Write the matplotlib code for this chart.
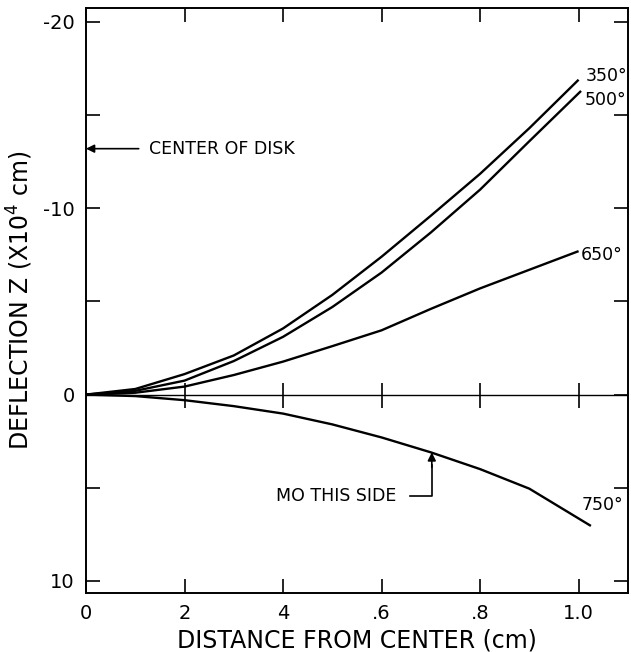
import matplotlib
matplotlib.use("Agg")
import matplotlib.pyplot as plt
import numpy as np

plt.rcParams['font.family'] = ['DejaVu Sans']

# curves (x in cm, Z in 1e-4 cm, negative = up)
x350 = [0.0, 0.1, 0.2, 0.3, 0.4, 0.5, 0.6, 0.7, 0.8, 0.9, 1.0]
z350 = [0.0, -0.3, -1.1, -2.1, -3.55, -5.35, -7.4, -9.6, -11.85, -14.3, -16.9]
x500 = [0.0, 0.1, 0.2, 0.3, 0.4, 0.5, 0.6, 0.7, 0.8, 0.9, 1.005]
z500 = [0.0, -0.2, -0.75, -1.8, -3.1, -4.7, -6.55, -8.7, -11.0, -13.6, -16.3]
x650 = [0.0, 0.1, 0.2, 0.3, 0.4, 0.5, 0.6, 0.7, 0.8, 0.9, 1.0]
z650 = [0.0, -0.1, -0.43, -1.05, -1.77, -2.6, -3.45, -4.6, -5.7, -6.7, -7.7]
x750 = [0.0, 0.1, 0.2, 0.3, 0.4, 0.5, 0.6, 0.7, 0.8, 0.9, 1.025]
z750 = [0.0, 0.08, 0.3, 0.62, 1.02, 1.6, 2.3, 3.1, 4.0, 5.05, 7.05]

curve_labels = ["350°", "500°", "650°", "750°"]
label_pos = [(1.015, -17.1), (1.012, -15.8), (1.005, -7.5), (1.007, 5.9)]

xticks = [0, 0.2, 0.4, 0.6, 0.8, 1.0]
xticklabels = ["0", "2", "4", ".6", ".8", "1.0"]
yticks = [-20, -10, 0, 10]
yticklabels = ["-20", "-10", "0", "10"]
yminor = [-15, -5, 5]

fig = plt.figure(figsize=(6.31, 6.52), dpi=100)
ax = fig.add_axes([0.1363, 0.0905, 0.8587, 0.8972])

for xs, zs in [(x350, z350), (x500, z500), (x650, z650), (x750, z750)]:
    ax.plot(xs, zs, color="black", lw=1.7, solid_capstyle="butt")

# zero line with crosses
ax.axhline(0, color="black", lw=1.0)
ax.plot(xticks[1:], [0] * (len(xticks) - 1), ls="none", marker="|",
        markersize=18, markeredgewidth=1.2, color="black")

for lab, (lx, lz) in zip(curve_labels, label_pos):
    ax.text(lx, lz, lab, fontsize=12.5, ha="left", va="center")

ax.annotate("", xy=(0.0, -13.2), xytext=(0.107, -13.2),
            arrowprops=dict(arrowstyle="-|>", color="black", lw=1.2,
                            mutation_scale=12, shrinkA=0, shrinkB=0))
ax.text(0.128, -13.2, "CENTER OF DISK", fontsize=12.5, ha="left", va="center")

ax.plot([0.658, 0.702, 0.702], [5.45, 5.45, 3.8], color="black", lw=1.2)
ax.annotate("", xy=(0.702, 3.1), xytext=(0.702, 3.9),
            arrowprops=dict(arrowstyle="-|>", color="black", lw=1.2,
                            mutation_scale=12, shrinkA=0, shrinkB=0))
ax.text(0.63, 5.45, "MO THIS SIDE", fontsize=12.5, ha="right", va="center")

ax.set_xlim(0, 1.1)
ax.set_ylim(10.65, -20.75)
ax.set_xticks(xticks)
ax.set_xticklabels(xticklabels)
ax.set_yticks(yticks)
ax.set_yticklabels(yticklabels)
ax.set_yticks(yminor, minor=True)
ax.tick_params(which="both", direction="in", length=10, width=1.2,
               top=True, right=True, labelsize=14, pad=8)
for s in ax.spines.values():
    s.set_linewidth(1.4)

ax.set_xlabel("DISTANCE FROM CENTER (cm)", fontsize=17, labelpad=4)
ax.set_ylabel("DEFLECTION Z (X10$^4$ cm)", fontsize=17, labelpad=6)

fig.savefig("out.png", dpi=100)
